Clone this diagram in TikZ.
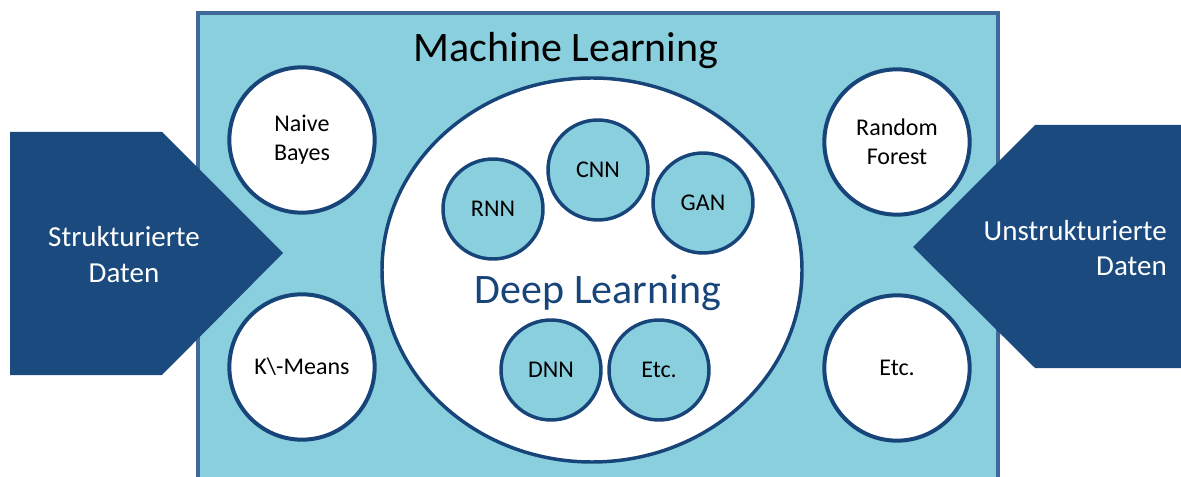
\documentclass[tikz,border=0pt]{standalone}
\usepackage{fontspec}
\setmainfont{Carlito}
\usetikzlibrary{shapes.geometric}
\definecolor{mlfill}{HTML}{89CFDE}
\definecolor{mlborder}{HTML}{41689A}
\definecolor{navy}{HTML}{1B4A7E}
\definecolor{ring}{HTML}{17457A}
\begin{document}
\begin{tikzpicture}[x=0.75pt,y=-0.75pt,
  algo/.style={circle, draw=ring, line width=3pt, fill=white, minimum size=109pt,
    inner sep=0pt, align=center, font=\fontsize{18}{22}\selectfont},
  net/.style={circle, draw=ring, line width=2.6pt, fill=mlfill, minimum size=75pt,
    inner sep=0pt, font=\fontsize{18}{22}\selectfont},
  datatext/.style={text=white, font=\fontsize{21.75}{26.5}\selectfont},
  datashape/.style={fill=navy, draw=none}]
\useasboundingbox (0,0) rectangle (1181,477);
\clip (0,0) rectangle (1181,477);
% Machine learning frame, running off the bottom edge
\draw[mlborder, fill=mlfill, line width=2.3pt] (198,13) rectangle (998,530);
\node[anchor=base, font=\fontsize{31.5}{38}\selectfont] (ml) at (566,62) {Machine Learning};
% classic algorithms
\node[algo] (nb) at (302,140) {Naive\\Bayes};
\node[algo] (km) at (302,367) {K\textbackslash-Means};
\node[algo] (rf) at (897,142) {Random\\Forest};
\node[algo] (etc1) at (897,368) {Etc.};
% deep learning area
\node[ellipse, draw=ring, line width=2.6pt, fill=white, minimum width=315pt,
  minimum height=288pt, inner sep=0pt] (dl) at (592,270) {};
\node[anchor=base, text=ring, font=\fontsize{31.5}{38}\selectfont] (dltext) at (598,303) {Deep Learning};
\node[net] (cnn) at (598,170) {CNN};
\node[net] (rnn) at (493,209) {RNN};
\node[net] (gan) at (703,203) {GAN};
\node[net] (dnn) at (551,370) {DNN};
\node[net] (etc2) at (659,370) {Etc.};
% data inputs (base anchor sits on the last line)
\path[datashape] (10,132) coordinate (la) -- (162,132) -- (283,253) coordinate (ltip)
  -- (162,375) -- (10,375) -- cycle;
\node[datatext, anchor=base, align=center] (sd) at (124,282) {Strukturierte\\Daten};
\path[datashape] (1181,125) coordinate (ra) -- (1035,125) -- (913,247) coordinate (rtip)
  -- (1035,368) -- (1181,368) -- cycle;
\node[datatext, anchor=base east, align=right, inner sep=0pt] (ud) at (1167,276) {Unstrukturierte\\Daten};
\end{tikzpicture}
\end{document}
